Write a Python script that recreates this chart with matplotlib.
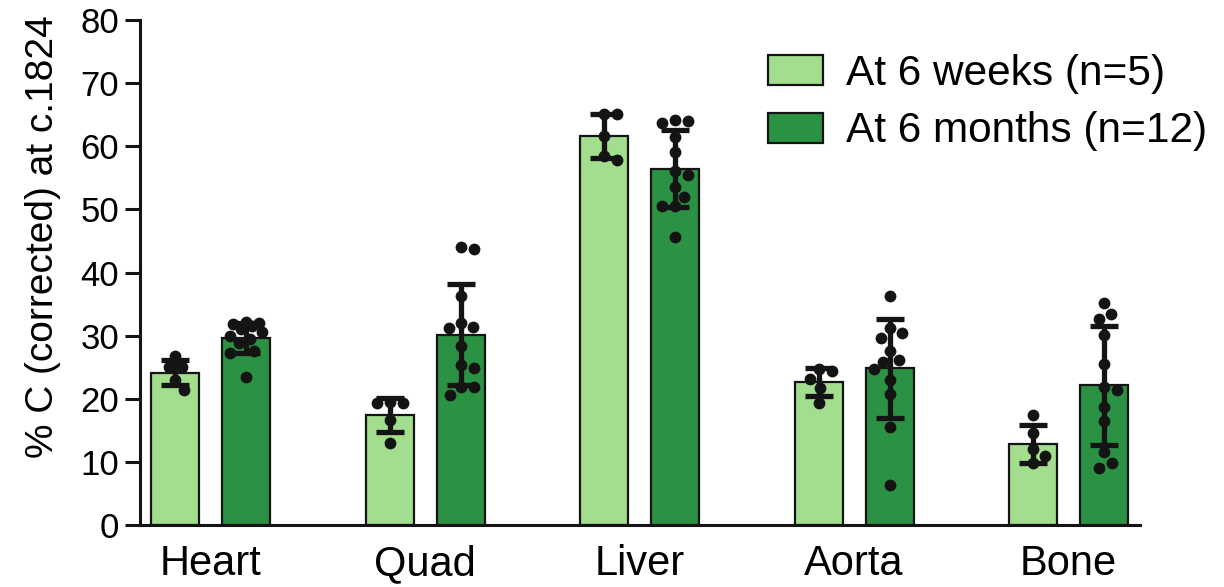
import numpy as np
import matplotlib
matplotlib.use("Agg")
import matplotlib.pyplot as plt
from matplotlib.patches import Patch

plt.rcParams["font.family"] = ["Liberation Sans", "DejaVu Sans"]

categories = ["Heart", "Quad", "Liver", "Aorta", "Bone"]
series_labels = ["At 6 weeks (n=5)", "At 6 months (n=12)"]

weeks_mean = [24.15, 17.4, 61.65, 22.6, 12.9]
weeks_sd = [1.95, 2.7, 3.45, 2.2, 3.0]
months_mean = [29.6, 30.1, 56.45, 24.8, 22.15]
months_sd = [2.4, 8.0, 6.15, 7.8, 9.45]

weeks_points = [
    [26.8, 25.0, 25.0, 23.0, 21.4],
    [19.3, 19.3, 19.5, 16.6, 13.0],
    [65.1, 65.1, 61.6, 57.9, 58.5],
    [24.7, 24.4, 23.1, 21.7, 19.3],
    [17.4, 14.5, 12.0, 11.0, 9.8],
]
months_points = [
    [32.2, 32.0, 31.8, 31.5, 31.0, 30.6, 30.0, 29.5, 28.8, 27.5, 27.3, 23.5],
    [44.1, 43.7, 36.3, 32.0, 31.2, 31.3, 28.4, 25.3, 24.8, 21.9, 21.9, 20.6],
    [64.2, 63.7, 64.0, 61.4, 59.1, 56.1, 55.4, 53.5, 52.0, 50.5, 50.5, 45.7],
    [36.3, 31.2, 30.4, 29.6, 27.6, 26.1, 25.8, 24.7, 23.0, 20.7, 15.6, 6.3],
    [35.2, 33.4, 32.6, 30.1, 25.5, 21.8, 21.4, 18.7, 16.4, 11.5, 9.1, 9.8],
]

y_ticks = [0, 10, 20, 30, 40, 50, 60, 70, 80]

light_green = "#a3dd8e"
dark_green = "#2b9243"
ink = "#141414"

W, H = 1224, 587
fig = plt.figure(figsize=(W / 100, H / 100), dpi=100)
ax = fig.add_axes([140 / W, 1 - 525 / H, 1000 / W, 505 / H])

x = np.arange(len(categories))
offset = 0.1655
width = 0.224

ax.set_xlim(-0.329, 4.333)
ax.set_ylim(0, 80)

for means, sds, color, dx in [(weeks_mean, weeks_sd, light_green, -offset),
                              (months_mean, months_sd, dark_green, offset)]:
    ax.bar(x + dx, means, width=width, color=color, edgecolor=ink,
           linewidth=1.6, zorder=2)
    ax.errorbar(x + dx, means, yerr=sds, fmt="none", ecolor=ink,
                elinewidth=3.8, capsize=10, capthick=3.8, zorder=3)


def swarm_offsets(values, center, diameter_px, max_spread_px=16.0):
    """Spread points sideways, staying within a band around the bar centre."""
    pts = ax.transData.transform(np.column_stack([np.full(len(values), center), values]))
    ys = pts[:, 1]
    cands = [0.0]
    for k in range(1, int(max_spread_px / 0.5) + 1):
        cands += [k * 0.5, -k * 0.5]
    placed = []
    xs_px = np.zeros(len(values))
    for i in np.argsort(-np.asarray(values)):
        best, best_gap = 0.0, -1.0
        for cand in cands:
            gap = min((np.hypot(cand - px, ys[i] - py) for px, py in placed),
                      default=np.inf)
            if gap >= diameter_px:
                best = cand
                break
            if gap > best_gap + 1e-9:
                best, best_gap = cand, gap
        xs_px[i] = best
        placed.append((best, ys[i]))
    px_per_unit = ax.transData.transform((1, 0))[0] - ax.transData.transform((0, 0))[0]
    return center + xs_px / px_per_unit


for pts_list, dx in [(weeks_points, -offset), (months_points, offset)]:
    for xi, vals in zip(x, pts_list):
        xs = swarm_offsets(vals, xi + dx, 13)
        ax.plot(xs, vals, "o", color=ink, markersize=8.5, markeredgewidth=0,
                zorder=4)

for side in ["top", "right"]:
    ax.spines[side].set_visible(False)
for side in ["left", "bottom"]:
    ax.spines[side].set_linewidth(2.2)
    ax.spines[side].set_color(ink)

ax.set_yticks(y_ticks)
ax.set_yticklabels([str(t) for t in y_ticks])
ax.tick_params(axis="y", direction="out", length=11, width=2.2, color=ink,
               labelsize=25, pad=4)
ax.set_xticks(x)
ax.set_xticklabels(categories)
ax.tick_params(axis="x", length=0, labelsize=30, pad=14)

ax.set_ylabel("% C (corrected) at c.1824", fontsize=28)
ax.yaxis.set_label_coords(-0.079, 0.572)

handles = [Patch(facecolor=light_green, edgecolor=ink, linewidth=1.6),
           Patch(facecolor=dark_green, edgecolor=ink, linewidth=1.6)]
fig.legend(handles, series_labels, loc="upper left",
           bbox_to_anchor=(768 / W, 1 - 54 / H), frameon=False,
           fontsize=30.5, handlelength=1.3, handleheight=0.71,
           handletextpad=0.55, labelspacing=0.41, borderpad=0,
           borderaxespad=0)

fig.savefig("out.png", dpi=100)
